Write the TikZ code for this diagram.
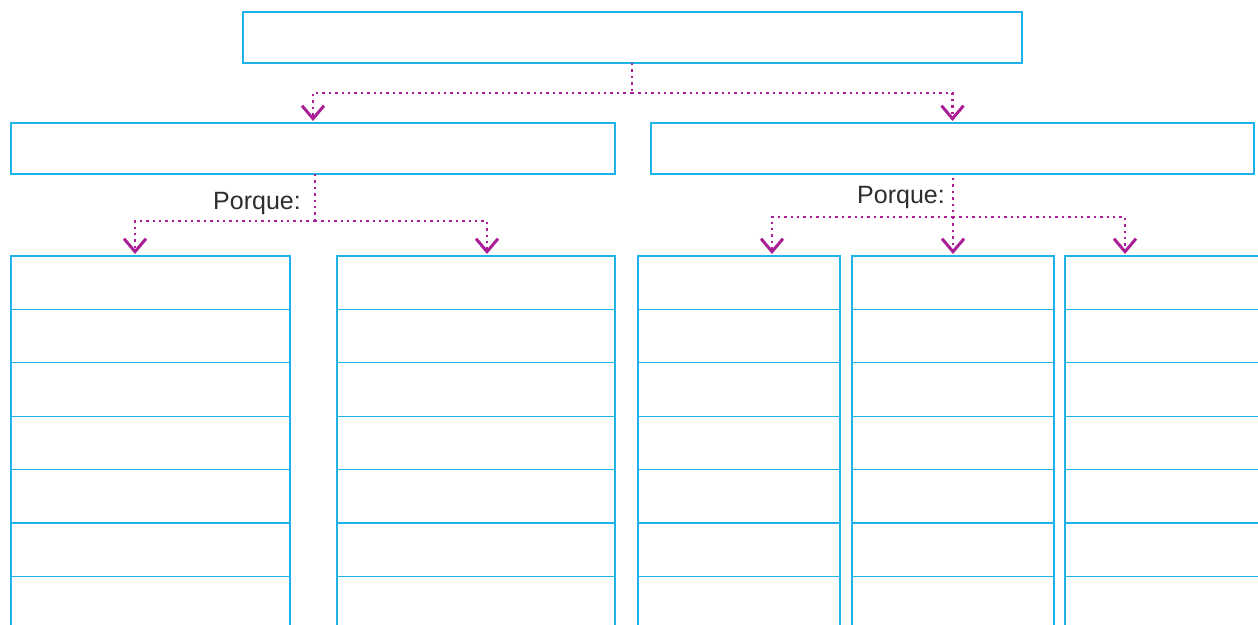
\documentclass[tikz,border=0pt]{standalone}
\usepackage{fontspec}
\setmainfont{Liberation Sans}
\usetikzlibrary{arrows.meta}
\definecolor{boxcyan}{RGB}{30,178,232}
\definecolor{linkmag}{RGB}{170,30,150}
\definecolor{textgray}{RGB}{45,45,45}
\tikzset{
  box/.style={draw=boxcyan, line width=1.2pt, anchor=north west,
    inner sep=0pt, outer sep=0pt, minimum height=51pt},
  cell/.style={box, minimum height=53.4pt},
  link/.style={linkmag, line width=2.4pt,
    dash pattern=on 2.4pt off 4pt},
  linkarrow/.style={link, -{Straight Barb[length=13pt,width=22pt,line width=3pt]}},
  why/.style={textgray, font=\fontsize{25}{30}\selectfont, inner sep=0pt}
}
\begin{document}
\begin{tikzpicture}[x=1pt,y=-1pt]

            % Frame of the picture
            \clip (0,0) rectangle (1258,624);
            \useasboundingbox (0,0) rectangle (1258,624);

            % Top box and the two boxes below it
            \node[box, minimum width=779pt] (top) at (243,12) {};
            \node[box, minimum width=604pt] (lbox) at (11,123) {};
            \node[box, minimum width=603pt] (rbox) at (651,123) {};

            % Columns of cells (loop)
            \foreach \col/\x/\w in {1/11/279, 2/337/278, 3/638/202, 4/852/202, 5/1065/202}
                \foreach \r in {1,...,7}
                    \node[cell, minimum width=\w pt] (c\col r\r) at (\x,{256+(\r-1)*53.4}) {};

            % Labels
            \node[why] (whyL) at (257,203) {Porque:};
            \node[why] (whyR) at (901,197) {Porque:};

            % Junctions and arrow ends
            \coordinate (j0) at (632,93);
            \coordinate (jL) at (315,221);
            \coordinate (jR) at (953,217);
            \coordinate (aL1) at (135,254);
            \coordinate (aL2) at (487,254);
            \coordinate (aR1) at (772,254);
            \coordinate (aR3) at (1125,254);

            % Top box to the two boxes
            \draw[link] (top.south -| j0) -- (j0);
            \draw[linkarrow] (j0) -| ([yshift=2pt]lbox.north);
            \draw[linkarrow] (j0) -| ([yshift=2pt]rbox.north);

            % Left box to its columns
            \draw[link] (lbox.south -| jL) -- (jL);
            \draw[linkarrow] (jL) -| (aL1);
            \draw[linkarrow] (jL) -| (aL2);

            % Right box to its columns
            \draw[link] ([yshift=-4pt]rbox.south -| jR) -- (jR);
            \draw[linkarrow] (jR) -| (aR1);
            \draw[linkarrow] (jR) -- ([yshift=2pt]c4r1.north -| jR);
            \draw[linkarrow] (jR) -| (aR3);

        \end{tikzpicture}
\end{document}
